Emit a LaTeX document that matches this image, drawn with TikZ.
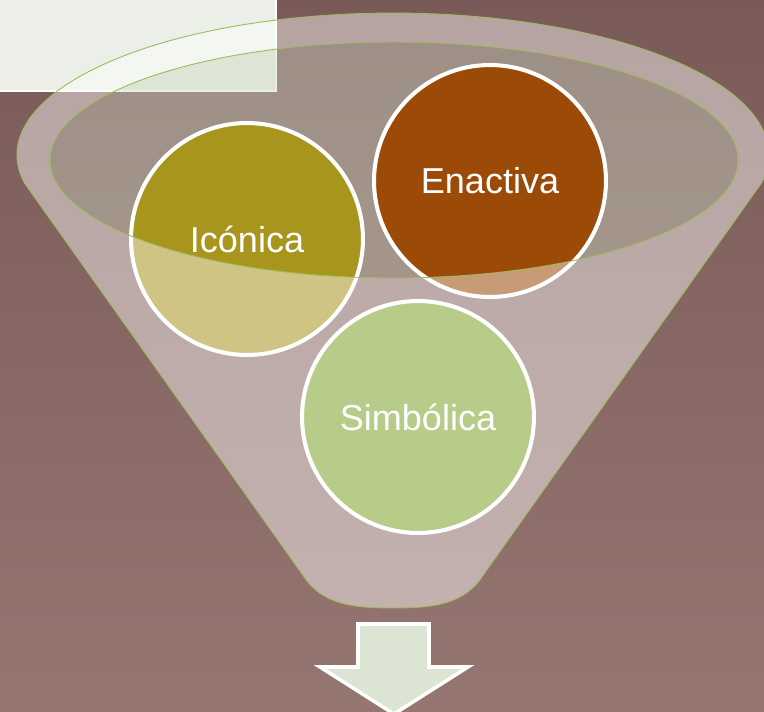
\documentclass[tikz,border=0pt]{standalone}
\usepackage{fontspec}
\setmainfont{Liberation Sans}
\usetikzlibrary{positioning}

\definecolor{fondoA}{RGB}{122,90,88}
\definecolor{fondoB}{RGB}{150,118,113}
\definecolor{borde}{RGB}{155,187,89}
\definecolor{boca}{RGB}{204,214,193}
\definecolor{cajaclara}{RGB}{236,239,231}
\definecolor{oliva}{RGB}{168,149,30}
\definecolor{oxido}{RGB}{156,74,8}
\definecolor{verdeclaro}{RGB}{184,204,138}
\definecolor{flecha}{RGB}{220,228,211}

\def\embudo{(24.4,-183) arc[start angle=191.37, end angle=-11.37, x radius=7.52cm, y radius=2.84cm]
  -- (483.3,-575) .. controls (465,-604) and (435,-608) .. (393,-608)
  .. controls (351,-608) and (321,-604) .. (302.7,-575) -- cycle}
\def\boca{(394,-160) ellipse [x radius=6.88cm, y radius=2.36cm]}

\tikzset{burbuja/.style={circle, draw=white, line width=2.3pt, minimum size=4.64cm, inner sep=0pt,
  text=white, font=\fontsize{20.5}{24}\selectfont}}

\begin{document}
\begin{tikzpicture}[x=0.02cm, y=0.02cm]
\useasboundingbox (0,0) rectangle (764,-712);
\shade[top color=fondoA, bottom color=fondoB] (0,0) rectangle (764,-712);
\fill[cajaclara] (0,0) rectangle (276,-91);
\draw[white, line width=1.5pt] (0,-91) -- (276,-91) -- (276,0);

\fill[boca, opacity=0.43] \boca;
\node[burbuja, fill=oliva] (iconica) at (247,-239) {Icónica};
\node[burbuja, fill=oxido] (enactiva) at (490,-181) {Enactiva};

\fill[white, opacity=0.45, even odd rule] \embudo \boca;
\draw[borde, line width=0.5pt] \embudo;
\draw[borde, line width=0.5pt] \boca;

\node[burbuja, fill=verdeclaro] (simbolica) at (418,-417) {Simbólica};

\draw[white, line width=2pt, fill=flecha] (358,-624) -- (429,-624) -- (429,-667) -- (468,-667)
  -- (394,-714) -- (320,-667) -- (358,-667) -- cycle;
\end{tikzpicture}
\end{document}
